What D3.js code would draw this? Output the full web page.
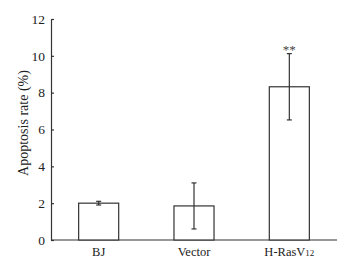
<!DOCTYPE html>
<html><head><meta charset="utf-8">
<script src="https://cdn.jsdelivr.net/npm/d3@7"></script>
<style>body{margin:0;background:#fff}svg{display:block}</style>
</head><body>
<svg id="c" width="350" height="261"></svg>
<script>
const categories = ["BJ", "Vector", "H-RasV12"];
const values = [2.0, 1.85, 8.32];
const errors = [0.1, 1.25, 1.8];
const marks = ["", "", "**"];
const yTicks = [0, 2, 4, 6, 8, 10, 12];

const svg = d3.select("#c");
const font = "'Liberation Serif','Times New Roman',serif";
const stroke = "#333";
const x = d3.scaleBand().domain(categories).range([51, 337]).paddingInner(0.58).paddingOuter(0.29);
const y = d3.scaleLinear().domain([0, 12]).range([240, 19]);

// y axis
const ya = svg.append("g").attr("transform", "translate(51,0)")
  .call(d3.axisLeft(y).tickValues(yTicks).tickSizeInner(-3).tickSizeOuter(0).tickPadding(6));
ya.select(".domain").attr("stroke", stroke).attr("stroke-width", 1.2);
ya.selectAll(".tick line").attr("stroke", stroke).attr("stroke-width", 1.2);
ya.selectAll(".tick text").attr("font-family", font).attr("font-size", 13.5).attr("fill", "#222");

// x axis
const xa = svg.append("g").attr("transform", "translate(0,240)")
  .call(d3.axisBottom(x).tickSize(0).tickPadding(7));
xa.select(".domain").attr("stroke", stroke).attr("stroke-width", 1.2).attr("d", "M51,0H337");
xa.selectAll(".tick text").attr("font-family", font).attr("font-size", 12.5).attr("fill", "#222")
  .each(function(d){
    const t = d3.select(this);
    const m = d.match(/^(.*?)(\d+)$/);
    if (m) {
      t.text(m[1]);
      t.append("tspan").attr("font-size", 9).text(m[2]);
    }
  });

// bars
svg.selectAll("rect.bar").data(categories).join("rect")
  .attr("class", "bar")
  .attr("x", d => x(d)).attr("width", x.bandwidth())
  .attr("y", (d, i) => y(values[i])).attr("height", (d, i) => y(0) - y(values[i]))
  .attr("fill", "#fff").attr("stroke", stroke).attr("stroke-width", 1.2);

// error bars
const eg = svg.selectAll("g.err").data(categories).join("g").attr("class", "err");
eg.append("line")
  .attr("x1", d => x(d) + x.bandwidth()/2).attr("x2", d => x(d) + x.bandwidth()/2)
  .attr("y1", (d, i) => y(values[i] + errors[i])).attr("y2", (d, i) => y(values[i] - errors[i]))
  .attr("stroke", stroke).attr("stroke-width", 1.2);
[1, -1].forEach(s => {
  eg.append("line")
    .attr("x1", d => x(d) + x.bandwidth()/2 - 2.5).attr("x2", d => x(d) + x.bandwidth()/2 + 2.5)
    .attr("y1", (d, i) => y(values[i] + s*errors[i])).attr("y2", (d, i) => y(values[i] + s*errors[i]))
    .attr("stroke", stroke).attr("stroke-width", 1.2);
});
eg.append("text")
  .attr("x", d => x(d) + x.bandwidth()/2)
  .attr("y", (d, i) => y(values[i] + errors[i]) - 0)
  .attr("text-anchor", "middle").attr("font-family", font).attr("font-size", 13).attr("fill", "#444")
  .text((d, i) => marks[i]);

// y label
svg.append("text")
  .attr("transform", "translate(28,123) rotate(-90)")
  .attr("text-anchor", "middle").attr("font-family", font).attr("font-size", 14).attr("fill", "#222")
  .text("Apoptosis rate (%)");
</script>
</body></html>
